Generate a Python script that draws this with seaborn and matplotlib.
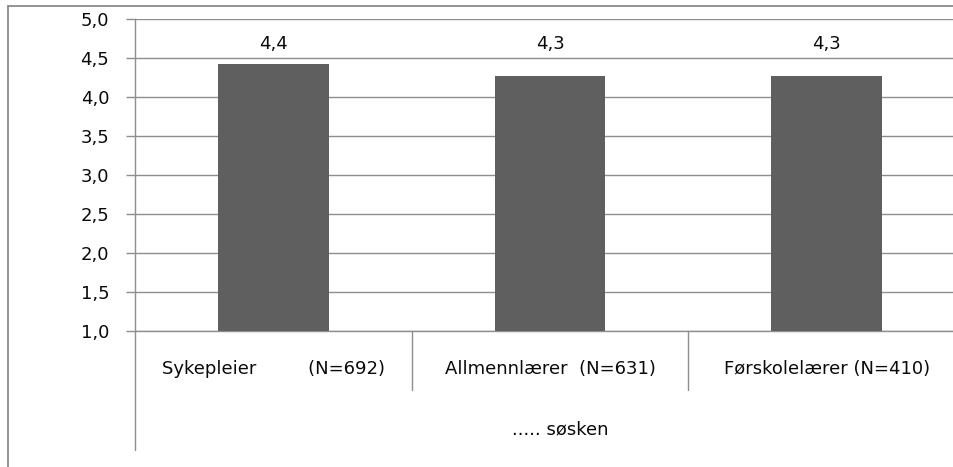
import matplotlib
matplotlib.use("Agg")
import matplotlib.pyplot as plt
import matplotlib.transforms as mtransforms
from matplotlib.lines import Line2D
from matplotlib.ticker import FuncFormatter, MultipleLocator
import seaborn as sns
import pandas as pd

categories = ["Sykepleier         (N=692)", "Allmennlærer  (N=631)", "Førskolelærer (N=410)"]
values = [4.42, 4.27, 4.27]
value_labels = ["4,4", "4,3", "4,3"]
group_label = "..... søsken"

sns.set_theme(style="white")
plt.rcParams["font.family"] = ["DejaVu Sans"]

FS = 13
W, H = 954, 467
fig = plt.figure(figsize=(W / 100, H / 100), dpi=100)
fig.patch.set_facecolor("white")

left_px, right_px, top_px, bottom_px = 135, 965, 19, 331
ax = fig.add_axes([left_px / W, 1 - bottom_px / H, (right_px - left_px) / W, (bottom_px - top_px) / H])

df = pd.DataFrame({"cat": categories, "val": values})
sns.barplot(data=df, x="cat", y="val", color="#5f5f5f", width=0.4, saturation=1,
            linewidth=0, edgecolor="none", ax=ax, zorder=3)

grid_c = "#8e8e8e"
ax.set_ylim(1.0, 5.0)
ax.yaxis.set_major_locator(MultipleLocator(0.5))
ax.yaxis.set_major_formatter(FuncFormatter(lambda v, p: f"{v:.1f}".replace(".", ",")))
ax.grid(axis="y", color=grid_c, linewidth=1.0, zorder=0)
ax.set_axisbelow(True)
ax.set_xlabel("")
ax.set_ylabel("")

for s in ["top", "right"]:
    ax.spines[s].set_visible(False)
for s in ["left", "bottom"]:
    ax.spines[s].set_color(grid_c)
    ax.spines[s].set_linewidth(1.0)

ax.tick_params(axis="y", left=True, length=6.5, width=1.0, color=grid_c, pad=12, labelsize=FS, labelcolor="#0a0a0a")
ax.tick_params(axis="x", bottom=False, length=0, pad=21, labelsize=FS, labelcolor="#0a0a0a")

# value labels, all at the same height as in the reference
label_y = 5.0 - (44 - top_px) / ((bottom_px - top_px) / 4.0)
for patch, lab in zip(ax.patches, value_labels):
    cx = patch.get_x() + patch.get_width() / 2
    ax.text(cx, label_y, lab, ha="center", va="center", fontsize=FS, color="#0a0a0a")

trans = mtransforms.blended_transform_factory(ax.transData, ax.transAxes)
ax_h = bottom_px - top_px
for xs in [0.5, 1.5]:
    ax.add_line(Line2D([xs, xs], [0, -(390 - bottom_px) / ax_h], transform=trans, color=grid_c, lw=1.0, clip_on=False))
ax.add_line(Line2D([0, 0], [0, -(450 - bottom_px) / ax_h], transform=ax.transAxes, color=grid_c, lw=1.0, clip_on=False))

ax.text(1.036, -(429 - bottom_px) / ax_h, group_label, transform=trans,
        ha="center", va="center", fontsize=FS, color="#0a0a0a")

# outer chart border
fig.add_artist(Line2D([8 / W, 1.0], [1 - 6 / H, 1 - 6 / H], transform=fig.transFigure, color="#8a8a8a", lw=1.3))
fig.add_artist(Line2D([8 / W, 8 / W], [1 - 6 / H, 0.0], transform=fig.transFigure, color="#8a8a8a", lw=1.3))

fig.savefig("out.png", dpi=100)
